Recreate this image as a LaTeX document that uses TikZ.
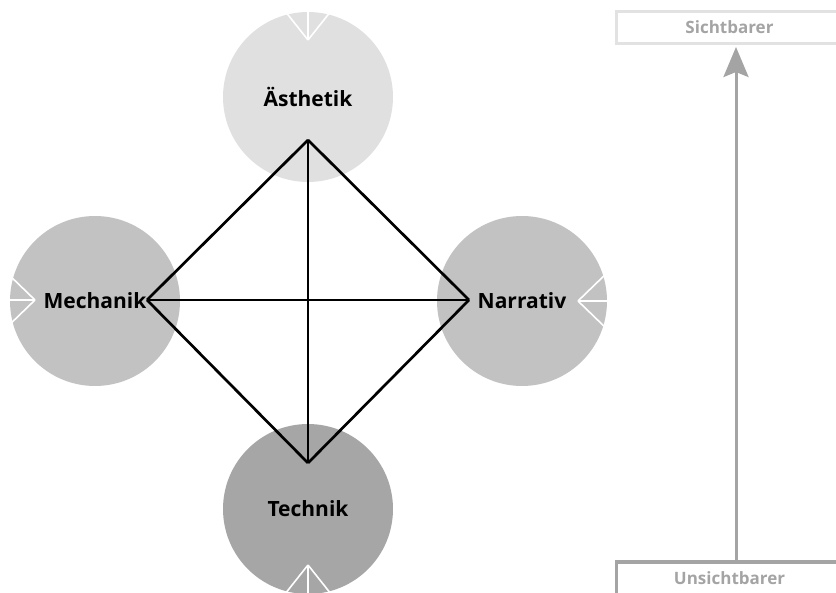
\documentclass[tikz,border=0pt]{standalone}
\usepackage{fontspec}
\setmainfont{Open Sans}
\usetikzlibrary{arrows.meta}

\definecolor{lightlayer}{HTML}{E0E0E0}
\definecolor{midlayer}{HTML}{C2C2C2}
\definecolor{darklayer}{HTML}{A6A6A6}
\definecolor{axisgray}{HTML}{A4A4A4}
\definecolor{framegray}{HTML}{E2E2E2}

\begin{document}
\begin{tikzpicture}[x=1pt,y=-1pt,
  layer node/.style={circle,minimum size=170pt,inner sep=0pt,
    text=black,font=\bfseries\fontsize{21}{25}\selectfont},
  entry mark/.style={draw=white,line width=1.6pt},
  tie/.style={draw=black,line width=2.7pt,line join=miter},
  level box/.style={rectangle,line width=3pt,minimum width=226pt,
    minimum height=32pt,inner sep=0pt,text=axisgray,
    font=\bfseries\fontsize{17}{20}\selectfont},
  axis arrow/.style={draw=axisgray,line width=3pt,
    -{Stealth[length=30pt,width=25pt,inset=5pt]}}]

  \useasboundingbox (0,0) rectangle (836,593);

  % the four layers
  \node[layer node,fill=lightlayer] (aes) at (308,97) {Ästhetik};
  \node[layer node,fill=midlayer] (mech) at (95,301) {Mechanik};
  \node[layer node,fill=midlayer] (narr) at (522,301) {Narrativ};
  \node[layer node,fill=darklayer] (tech) at (308,509) {Technik};

  % white entry marks
  \coordinate (aes in) at (308,40);
  \coordinate (mech in) at (35,300);
  \coordinate (narr in) at (578,301);
  \coordinate (tech in) at (308,565);
  \draw[entry mark] (aes in) -- +(0,-40) (aes in) -- +(-27,-34) (aes in) -- +(27,-34);
  \draw[entry mark] (mech in) -- +(-40,0) (mech in) -- +(-32,-31) (mech in) -- +(-32,31);
  \draw[entry mark] (narr in) -- +(40,0) (narr in) -- +(32,-31) (narr in) -- +(32,31);
  \draw[entry mark] (tech in) -- +(0,40) (tech in) -- +(-27,34) (tech in) -- +(27,34);

  % corners of the tetrahedron
  \coordinate (top) at (308,140);
  \coordinate (left) at (147,300);
  \coordinate (right) at (469,300);
  \coordinate (bottom) at (308,463);

  \path[tie]
  (top) edge (left)
  (top) edge (right)
  (top) edge (bottom)
  (left) edge (right)
  (left) edge (bottom)
  (right) edge (bottom);

  % visibility axis
  \node[level box,draw=framegray] (sicht) at (729.5,27.5) {Sichtbarer};
  \node[level box,draw=axisgray] (unsicht) at (729.5,578) {Unsichtbarer};
  \coordinate (axis) at (736,300);
  \draw[axis arrow,shorten >=2pt] (unsicht.north -| axis) -- (sicht.south -| axis);

\end{tikzpicture}
\end{document}
